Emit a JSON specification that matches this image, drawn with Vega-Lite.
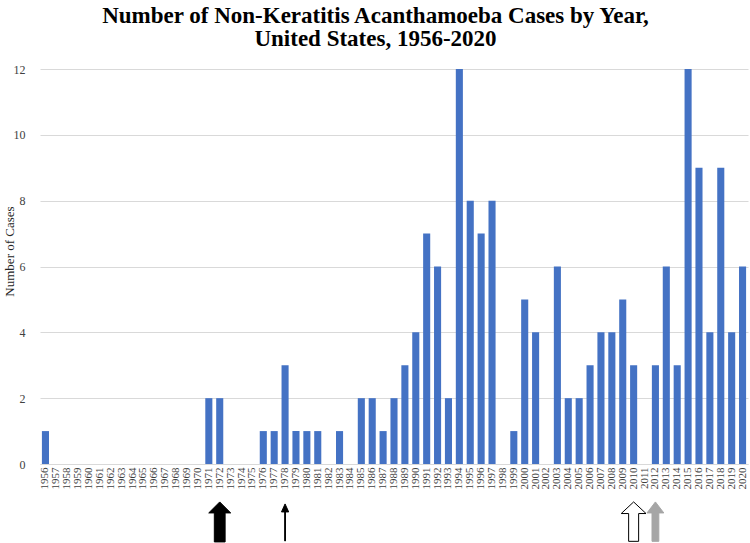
{
  "$schema": "https://vega.github.io/schema/vega-lite/v6.json",
  "width": 708,
  "height": 395,
  "autosize": {"type": "none"},
  "padding": {"left": 40, "top": 69, "right": 2, "bottom": 79},
  "background": "white",
  "title": {
    "text": ["Number of Non-Keratitis Acanthamoeba  Cases by Year,", "United States, 1956-2020"],
    "font": "Liberation Serif",
    "fontSize": 23,
    "fontWeight": "bold",
    "color": "black",
    "anchor": "middle",
    "frame": "bounds",
    "offset": 12,
    "lineHeight": 23
  },
  "config": {
    "view": {"stroke": null},
    "axis": {"labelFont": "Liberation Serif", "titleFont": "Liberation Serif", "labelColor": "#404040", "titleColor": "#262626"}
  },
  "layer": [
    {
      "data": {
        "values": [
          {"year": 1956, "cases": 1}, {"year": 1957, "cases": 0}, {"year": 1958, "cases": 0}, {"year": 1959, "cases": 0},
          {"year": 1960, "cases": 0}, {"year": 1961, "cases": 0}, {"year": 1962, "cases": 0}, {"year": 1963, "cases": 0},
          {"year": 1964, "cases": 0}, {"year": 1965, "cases": 0}, {"year": 1966, "cases": 0}, {"year": 1967, "cases": 0},
          {"year": 1968, "cases": 0}, {"year": 1969, "cases": 0}, {"year": 1970, "cases": 0}, {"year": 1971, "cases": 2},
          {"year": 1972, "cases": 2}, {"year": 1973, "cases": 0}, {"year": 1974, "cases": 0}, {"year": 1975, "cases": 0},
          {"year": 1976, "cases": 1}, {"year": 1977, "cases": 1}, {"year": 1978, "cases": 3}, {"year": 1979, "cases": 1},
          {"year": 1980, "cases": 1}, {"year": 1981, "cases": 1}, {"year": 1982, "cases": 0}, {"year": 1983, "cases": 1},
          {"year": 1984, "cases": 0}, {"year": 1985, "cases": 2}, {"year": 1986, "cases": 2}, {"year": 1987, "cases": 1},
          {"year": 1988, "cases": 2}, {"year": 1989, "cases": 3}, {"year": 1990, "cases": 4}, {"year": 1991, "cases": 7},
          {"year": 1992, "cases": 6}, {"year": 1993, "cases": 2}, {"year": 1994, "cases": 12}, {"year": 1995, "cases": 8},
          {"year": 1996, "cases": 7}, {"year": 1997, "cases": 8}, {"year": 1998, "cases": 0}, {"year": 1999, "cases": 1},
          {"year": 2000, "cases": 5}, {"year": 2001, "cases": 4}, {"year": 2002, "cases": 0}, {"year": 2003, "cases": 6},
          {"year": 2004, "cases": 2}, {"year": 2005, "cases": 2}, {"year": 2006, "cases": 3}, {"year": 2007, "cases": 4},
          {"year": 2008, "cases": 4}, {"year": 2009, "cases": 5}, {"year": 2010, "cases": 3}, {"year": 2011, "cases": 0},
          {"year": 2012, "cases": 3}, {"year": 2013, "cases": 6}, {"year": 2014, "cases": 3}, {"year": 2015, "cases": 12},
          {"year": 2016, "cases": 9}, {"year": 2017, "cases": 4}, {"year": 2018, "cases": 9}, {"year": 2019, "cases": 4},
          {"year": 2020, "cases": 6}
        ]
      },
      "mark": {"type": "bar", "color": "#4472c4"},
      "encoding": {
        "x": {
          "field": "year",
          "type": "ordinal",
          "scale": {"paddingInner": 0.35, "paddingOuter": 0.175},
          "axis": {
            "title": null,
            "labelAngle": -90,
            "labelFontSize": 11,
            "labelOverlap": false,
            "ticks": false,
            "domainColor": "#d9d9d9",
            "labelPadding": 3
          }
        },
        "y": {
          "field": "cases",
          "type": "quantitative",
          "scale": {"domain": [0, 12], "nice": false},
          "axis": {
            "title": "Number of Cases",
            "titleFontSize": 13,
            "titleFontWeight": "normal",
            "titlePadding": -3,
            "titleY": 182,
            "labelFontSize": 12,
            "labelPadding": 15,
            "values": [0, 2, 4, 6, 8, 10, 12],
            "domain": false,
            "ticks": false,
            "gridColor": "#d9d9d9"
          }
        }
      }
    },
    {
      "data": {
        "values": [
          {"year": 1972, "kind": "solid"},
          {"year": 1978, "kind": "thin"},
          {"year": 2010, "kind": "open"},
          {"year": 2012, "kind": "grey"}
        ]
      },
      "mark": {"type": "point", "filled": true, "size": 1600, "strokeWidth": 1, "opacity": 1},
      "encoding": {
        "x": {"field": "year", "type": "ordinal"},
        "y": {"datum": -1.76, "type": "quantitative"},
        "shape": {
          "field": "kind",
          "type": "nominal",
          "legend": null,
          "scale": {
            "domain": ["solid", "thin", "open", "grey"],
            "range": [
              "M0,-1L0.55,-0.45L0.27,-0.45L0.27,1L-0.27,1L-0.27,-0.45L-0.55,-0.45Z",
              "M0,-0.9L0.18,-0.5L0.02,-0.5L0.02,0.95L-0.02,0.95L-0.02,-0.5L-0.18,-0.5Z",
              "M0,-1L0.62,-0.42L0.25,-0.42L0.25,0.97L-0.25,0.97L-0.25,-0.42L-0.62,-0.42Z",
              "M0,-1L0.42,-0.45L0.17,-0.45L0.17,0.97L-0.17,0.97L-0.17,-0.45L-0.42,-0.45Z"
            ]
          }
        },
        "fill": {
          "field": "kind",
          "type": "nominal",
          "legend": null,
          "scale": {"domain": ["solid", "thin", "open", "grey"], "range": ["#000000", "#000000", "#ffffff", "#a6a6a6"]}
        },
        "stroke": {
          "field": "kind",
          "type": "nominal",
          "legend": null,
          "scale": {"domain": ["solid", "thin", "open", "grey"], "range": ["#000000", "#000000", "#000000", "#a6a6a6"]}
        }
      }
    }
  ]
}
